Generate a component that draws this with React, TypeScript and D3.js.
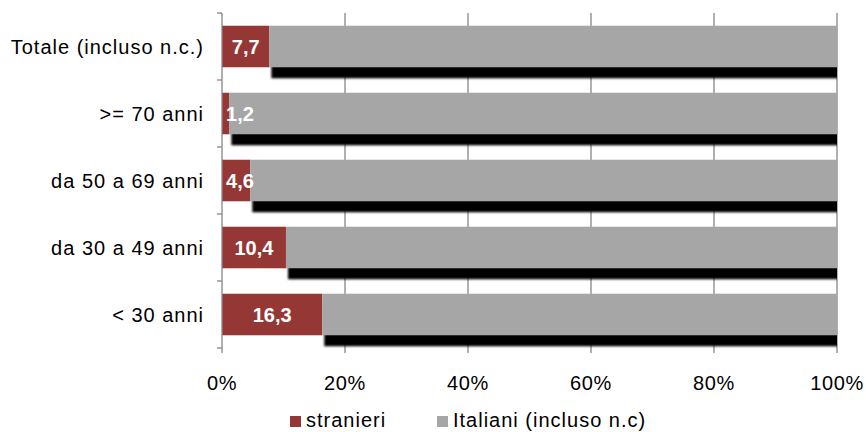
import { useMemo } from "react";
import * as d3 from "d3";

const categories = [
  "Totale (incluso n.c.)",
  ">= 70 anni",
  "da 50 a 69 anni",
  "da 30 a 49 anni",
  "< 30 anni",
];
const stranieri = [7.7, 1.2, 4.6, 10.4, 16.3];
const italiani = stranieri.map((v) => 100 - v);
const xTicks = [0, 20, 40, 60, 80, 100];
const seriesNames = ["stranieri", "Italiani (incluso n.c)"];
const colors = ["#953735", "#A6A6A6"];

const W = 866;
const H = 432;
const plot = { left: 222, right: 837, top: 13, bottom: 348 };
const font = "'Liberation Sans', Arial, sans-serif";

export default function App() {
  const x = useMemo(
    () => d3.scaleLinear().domain([0, 100]).range([plot.left, plot.right]),
    []
  );
  const y = useMemo(
    () =>
      d3
        .scaleBand<string>()
        .domain(categories)
        .range([plot.top, plot.bottom])
        .paddingInner(0.38)
        .paddingOuter(0.19),
    []
  );
  const step = y.step();
  const bw = y.bandwidth();

  return (
    <svg
      width={W}
      height={H}
      style={{ position: "fixed", left: 0, top: 0, background: "#fff" }}
      fontFamily={font}
    >
      <defs>
        <filter id="shadow" x="-5%" y="-50%" width="110%" height="200%">
          <feGaussianBlur stdDeviation="1.3" />
        </filter>
        <clipPath id="plotClip">
          <rect x={plot.left} y={0} width={plot.right - plot.left} height={plot.bottom + 10} />
        </clipPath>
      </defs>

      {/* gridlines */}
      {xTicks.slice(1).map((t) => (
        <line
          key={t}
          x1={x(t)}
          x2={x(t)}
          y1={plot.top}
          y2={plot.bottom + 5}
          stroke="#868686"
          strokeWidth={1.3}
        />
      ))}

      {/* shadows of the Italiani series */}
      <g clipPath="url(#plotClip)">
        {categories.map((c, i) => (
          <rect
            key={c}
            x={x(stranieri[i]) + 2}
            y={(y(c) as number) + 11}
            width={x(100) - x(stranieri[i])}
            height={bw}
            fill="#000"
            filter="url(#shadow)"
          />
        ))}
      </g>

      {/* bars */}
      {categories.map((c, i) => (
        <g key={c}>
          <rect
            x={x(0)}
            y={y(c)}
            width={x(stranieri[i]) - x(0)}
            height={bw}
            fill={colors[0]}
          />
          <rect
            x={x(stranieri[i])}
            y={y(c)}
            width={x(stranieri[i] + italiani[i]) - x(stranieri[i])}
            height={bw}
            fill={colors[1]}
          />
        </g>
      ))}

      {/* data labels */}
      <g clipPath="url(#plotClip)">
        {categories.map((c, i) => {
          const mid = (x(0) + x(stranieri[i])) / 2;
          const cx = Math.max(mid, x(0) + 18);
          return (
            <text
              key={c}
              x={cx}
              y={(y(c) as number) + bw / 2}
              dy="0.36em"
              textAnchor="middle"
              fill="#fff"
              fontWeight="bold"
              fontSize={20}
            >
              {stranieri[i].toFixed(1).replace(".", ",")}
            </text>
          );
        })}
      </g>

      {/* y axis */}
      <line x1={plot.left} x2={plot.left} y1={plot.top} y2={plot.bottom + 5} stroke="#868686" strokeWidth={1.3} />
      {d3.range(categories.length + 1).map((k) => (
        <line
          key={k}
          x1={plot.left - 5}
          x2={plot.left}
          y1={plot.top + k * step}
          y2={plot.top + k * step}
          stroke="#868686"
          strokeWidth={1.3}
        />
      ))}
      {categories.map((c) => (
        <text
          key={c}
          x={204}
          y={(y(c) as number) + bw / 2}
          dy="0.36em"
          textAnchor="end"
          fontSize={20}
          letterSpacing={1}
          fill="#000"
        >
          {c}
        </text>
      ))}

      {/* x tick labels */}
      {xTicks.map((t) => (
        <text key={t} x={x(t)} y={390} textAnchor="middle" fontSize={20} letterSpacing={0.6} fill="#000">
          {t}%
        </text>
      ))}

      {/* legend */}
      {seriesNames.map((s, i) => {
        const lx = [290, 437][i];
        return (
          <g key={s}>
            <rect x={lx} y={416} width={11} height={11} fill={colors[i]} />
            <text x={lx + 16} y={427} fontSize={20} letterSpacing={1} fill="#000">
              {s}
            </text>
          </g>
        );
      })}
    </svg>
  );
}
